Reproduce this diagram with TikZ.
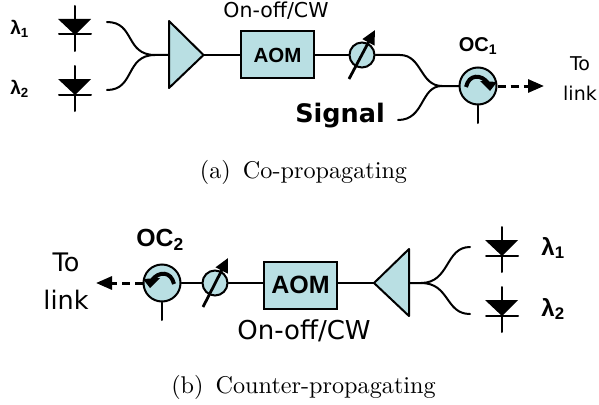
\documentclass[tikz,border=0pt]{standalone}
\usepackage{fontspec}
\newfontfamily\arialf{Liberation Sans}
\newfontfamily\verdf{DejaVu Sans}
\usetikzlibrary{arrows.meta}
\definecolor{cy}{HTML}{B9DFE3}
\tikzset{
  wire/.style={line width=2pt,line cap=round},
  block/.style={draw,line width=2pt,fill=cy,inner sep=0pt},
  aombox/.style={block,rectangle,minimum width=73pt,minimum height=47pt},
  phasedisc/.style={block,circle,minimum size=25pt},
  circdisc/.style={block,circle,minimum size=37pt},
  tunearrow/.style={line width=2.8pt,-{Triangle[length=14pt,width=13pt]}},
  dashwire/.style={line width=3pt,dash pattern=on 8pt off 5pt,-{Triangle[length=16pt,width=13pt]}},
  lab/.style={inner sep=0pt,font=\arialf\bfseries\fontsize{#1}{#1}\selectfont},
  verd/.style={inner sep=0pt,font=\verdf\fontsize{#1}{#1}\selectfont},
  captext/.style={inner sep=0pt,font=\fontsize{10}{12}\selectfont,scale=2.42},
}
\newcommand{\diode}[2]{% x, y of triangle top
  \draw[wire] (#1,#2-13) -- (#1,#2+32);
  \fill (#1-17,#2) -- (#1+16,#2) -- (#1,#2+16) -- cycle;
  \draw[wire] (#1-16,#2+15.5) -- (#1+16,#2+15.5);
}
\begin{document}
\begin{tikzpicture}[x=1pt,y=-1pt]
\useasboundingbox (0,0) rectangle (599,404);
% ---------- (a)
\diode{75}{19}
\diode{75}{79}
\node[lab=19] (l1) at (19.5,29) {λ\textsubscript{1}};
\node[lab=19] (l2) at (19.5,89) {λ\textsubscript{2}};
\node[aombox] (aom1) at (277.5,54.5) {};
\node[lab=20.5] (aom1t) at (277.5,55) {AOM};
\node[phasedisc] (ph1) at (362,55) {};
\node[circdisc] (oc1) at (478,86) {};
\coordinate (c1a) at (107,22);
\coordinate (c1b) at (107,90);
\coordinate (c1m) at (155,55);
\coordinate (amp1in) at (169,55);
\coordinate (amp1out) at (203.5,55);
\coordinate (c2m) at (442,86);
\coordinate (sig) at (398,120);
\draw[wire] (c1a) .. controls (135,22) and (125,55) .. (c1m) -- (amp1in);
\draw[wire] (c1b) .. controls (135,90) and (125,55) .. (c1m);
\draw[block,line join=round] (169,21) -- (amp1out) -- (169,88) -- cycle;
\draw[wire] (amp1out) -- (amp1out -| aom1.west);
\draw[wire] (ph1.west -| aom1.east) -- (ph1.west);
\draw[wire] (ph1.east) -- (400,55) .. controls (422,55) and (420,86) .. (c2m) -- (oc1.west);
\draw[wire] (sig) .. controls (425,120) and (420,86) .. (c2m);
\coordinate (t1a) at (349,79);
\coordinate (t1b) at (375,30);
\draw[tunearrow] (t1a) -- (t1b);
\draw[wire] (oc1.south) -- (478,123);
\coordinate (out1) at (544,86);
\draw[dashwire] (oc1.east) -- (out1);
\draw[line width=4pt] (466,87) .. controls (469,74) and (481,74) .. (488,83);
\fill (480,81) -- (497,82) -- (490,91) -- cycle;
\node[verd=20.5] (cw1) at (276,11) {On-off/CW};
\node[lab=20] (oc1t) at (478,46) {OC\textsubscript{1}};
\node[verd=19] (to1) at (580,64) {To};
\node[verd=19] (li1) at (580,93) {link};
\node[inner sep=0pt,font=\verdf\bfseries\fontsize{25.5}{26}\selectfont] (sigt) at (340,116) {Signal};
\node[captext] (capa) at (303.5,172) {(a)\, Co-propagating};
% ---------- (b)
\diode{502}{240}
\diode{502}{300}
\node[lab=24] (l3) at (553,248) {λ\textsubscript{1}};
\node[lab=24] (l4) at (553,309) {λ\textsubscript{2}};
\node[aombox] (aom2) at (300.5,285) {};
\node[lab=25] (aom2t) at (300.5,285) {AOM};
\node[phasedisc] (ph2) at (215,283) {};
\node[circdisc] (oc2) at (162,283) {};
\coordinate (c3a) at (470,247);
\coordinate (c3b) at (470,314);
\coordinate (c3m) at (421,283);
\coordinate (amp2in) at (409,283);
\coordinate (amp2out) at (374,283);
\draw[wire] (c3a) .. controls (445,247) and (450,283) .. (c3m) -- (amp2in);
\draw[wire] (c3b) .. controls (445,314) and (450,283) .. (c3m);
\draw[block,line join=round] (409,249) -- (amp2out) -- (409,316) -- cycle;
\draw[wire] (amp2out) -- (amp2out -| aom2.east);
\draw[wire] (ph2.east -| aom2.west) -- (ph2.east);
\draw[wire] (ph2.west) -- (oc2.east);
\coordinate (t2a) at (203,307);
\coordinate (t2b) at (228,258);
\draw[tunearrow] (t2a) -- (t2b);
\draw[wire] (oc2.south) -- (162,320);
\coordinate (out2) at (96,283);
\draw[dashwire] (oc2.west) -- (out2);
\draw[line width=4pt] (174,284) .. controls (171,271) and (159,271) .. (152,280);
\fill (160,278) -- (143,279) -- (150,288) -- cycle;
\node[verd=26] (cw2) at (304,331) {On-off/CW};
\node[lab=24.8] (oc2t) at (160,240) {OC\textsubscript{2}};
\node[verd=25.5] (to2) at (66,262) {To};
\node[verd=25.5] (li2) at (66,300) {link};
\node[captext] (capb) at (303.5,387) {(b)\, Counter-propagating};
\end{tikzpicture}
\end{document}
